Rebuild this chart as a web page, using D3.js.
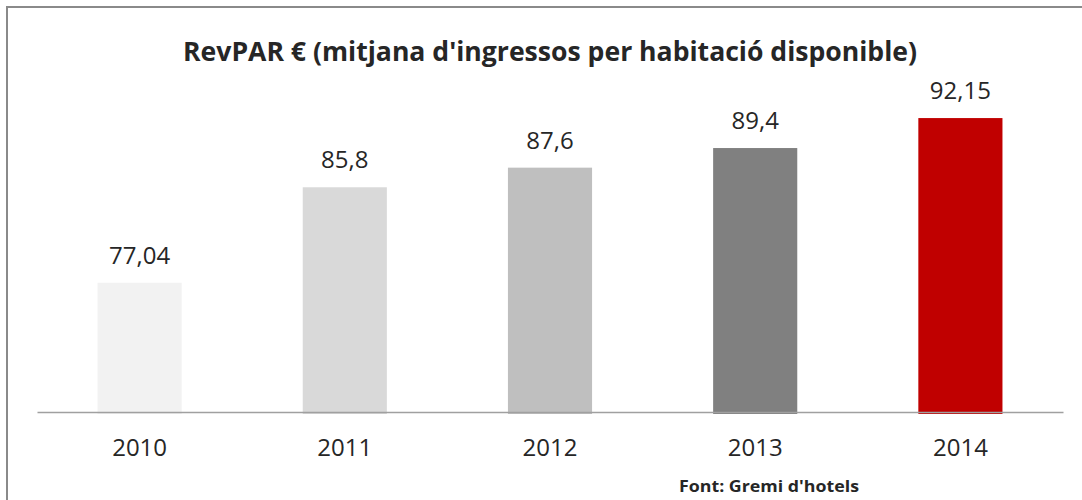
<!DOCTYPE html>
<html>
<head>
<meta charset="utf-8">
<script src="https://cdn.jsdelivr.net/npm/d3@7"></script>
<style>
  body { margin: 0; background: #fff; }
  #chart { width: 1082px; height: 500px; }
  text { font-family: "Open Sans", sans-serif; fill: #262626; }
</style>
</head>
<body>
<div id="chart"></div>
<script>
// data
const years = ["2010", "2011", "2012", "2013", "2014"];
const revpar = [77.04, 85.8, 87.6, 89.4, 92.15];
const labels = ["77,04", "85,8", "87,6", "89,4", "92,15"];
const barColors = ["#f2f2f2", "#d9d9d9", "#bfbfbf", "#808080", "#c00000"];
const yDomain = [65, 95];

const titleText = "RevPAR € (mitjana d'ingressos per habitació disponible)";
const sourceText = "Font: Gremi d'hotels";

function drawChart(container){
    const width = 1082, height = 500;
    const data = years.map((y, i) => ({year: y, value: revpar[i], label: labels[i], color: barColors[i]}));

    const svg = d3.select(container)
        .append('svg')
            .attr('width', width)
            .attr('height', height);

    // frame of the chart (runs off the right and bottom of the picture)
    svg.append('rect')
        .attr('x', 7).attr('y', 7)
        .attr('width', width + 20).attr('height', height + 20)
        .attr('fill', 'none')
        .attr('stroke', '#8a8a8a')
        .attr('stroke-width', 2);

    const x = d3.scaleBand()
        .domain(years)
        .range([37, 1063])
        .paddingInner(0.59)
        .paddingOuter(0.295);

    const y = d3.scaleLinear()
        .domain(yDomain)
        .range([414, 87]);

    svg.append('text')
        .attr('x', 550)
        .attr('y', 61)
        .attr('text-anchor', 'middle')
        .attr('font-size', 26)
        .attr('font-weight', 'bold')
        .attr('textLength', 734)
        .attr('lengthAdjust', 'spacingAndGlyphs')
        .text(titleText);

    const bars = svg.append('g').classed('bars', true);

    bars.selectAll('rect')
        .data(data)
        .enter().append('rect')
            .attr('x', d => x(d.year))
            .attr('width', x.bandwidth())
            .attr('y', d => y(d.value))
            .attr('height', d => y(yDomain[0]) - y(d.value))
            .style('fill', d => d.color);

    bars.selectAll('text')
        .data(data)
        .enter().append('text')
            .attr('x', d => x(d.year) + x.bandwidth() / 2)
            .attr('y', d => y(d.value) - 19)
            .attr('text-anchor', 'middle')
            .attr('font-size', 24)
            .text(d => d.label);

    const xAxis = d3.axisBottom(x)
        .tickSize(0)
        .tickPadding(27);

    const axis = svg.append('g')
        .classed('x axis', true)
        .attr('transform', 'translate(0,412)')
        .call(xAxis);

    axis.select('.domain')
        .attr('stroke', '#a0a0a0')
        .attr('stroke-width', 1.5);

    axis.selectAll('text')
        .attr('font-size', 24)
        .attr('font-family', '"Open Sans", sans-serif')
        .attr('fill', '#262626');

    svg.append('text')
        .attr('x', 679)
        .attr('y', 492)
        .attr('font-size', 16)
        .attr('font-weight', 'bold')
        .attr('textLength', 180)
        .attr('lengthAdjust', 'spacingAndGlyphs')
        .text(sourceText);
}

drawChart('#chart');
</script>
</body>
</html>
